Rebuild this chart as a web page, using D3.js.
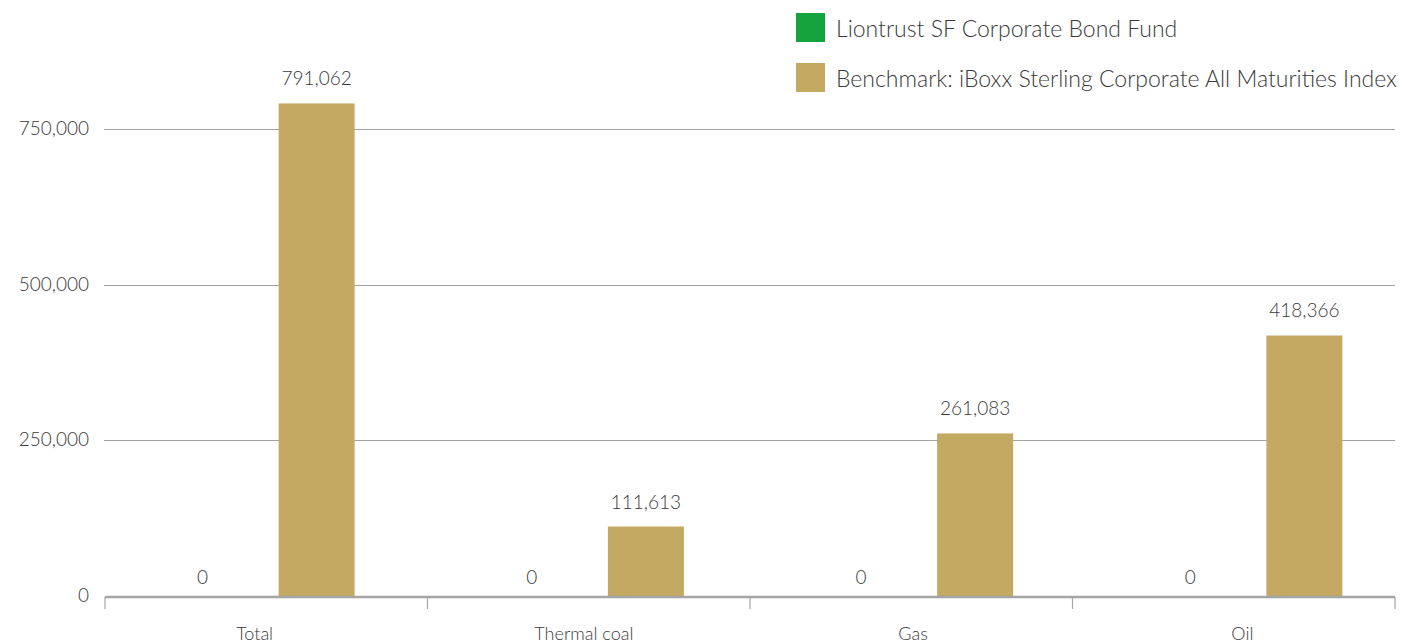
<!DOCTYPE html>
<html>
<head>
<meta charset="utf-8">
<script src="https://cdn.jsdelivr.net/npm/d3@7"></script>
<style>
  html, body { margin: 0; padding: 0; background: #fff; }
  svg text { font-family: "Lato", "Open Sans", sans-serif; font-weight: 300; fill: #3a3a3a; }
</style>
</head>
<body>
<svg id="chart" width="1402" height="644"></svg>
<script>
const categories = ["Total", "Thermal coal", "Gas", "Oil"];
const seriesNames = ["Liontrust SF Corporate Bond Fund", "Benchmark: iBoxx Sterling Corporate All Maturities Index"];
const fundValues = [0, 0, 0, 0];
const benchmarkValues = [791062, 111613, 261083, 418366];
const yTicks = [0, 250000, 500000, 750000];
const colors = ["#14a33c", "#c3a962"];

const svg = d3.select("#chart");
const plotLeft = 105, plotRight = 1395;
const y = d3.scaleLinear().domain([0, 750000]).range([596, 129]);

// axis scale (tick marks at category boundaries)
const xAxisScale = d3.scaleBand().domain(categories).range([plotLeft, plotRight]);
// content scale (bars and labels)
const x = d3.scaleBand().domain(categories).range([95, 1412]);
const bw = x.bandwidth();
const x1 = d3.scaleBand().domain(seriesNames)
  .range([bw / 2 - 95, bw / 2 + 95]).paddingInner(1/3).paddingOuter(0);

const fmt = d3.format(",");

// gridlines
svg.append("g").selectAll("line").data(yTicks.filter(t => t > 0)).join("line")
  .attr("x1", plotLeft - 1).attr("x2", plotRight)
  .attr("y1", d => Math.round(y(d)) + 0.5).attr("y2", d => Math.round(y(d)) + 0.5)
  .attr("stroke", "#a3a3a3").attr("stroke-width", 1);

// y labels
svg.append("g").selectAll("text").data(yTicks).join("text")
  .attr("x", 89).attr("y", d => y(d) + 6)
  .attr("text-anchor", "end").style("font-size", "19px")
  .text(d => fmt(d));

// bars
const data = categories.map((c, i) => ({ cat: c, vals: [fundValues[i], benchmarkValues[i]] }));
const groups = svg.append("g").selectAll("g").data(data).join("g")
  .attr("transform", d => `translate(${x(d.cat)},0)`);
groups.selectAll("rect").data(d => d.vals.map((v, j) => ({ v, s: seriesNames[j], j }))).join("rect")
  .attr("x", d => x1(d.s)).attr("width", x1.bandwidth())
  .attr("y", d => y(d.v)).attr("height", d => y(0) - y(d.v))
  .attr("fill", d => colors[d.j]);
groups.selectAll("text").data(d => d.vals.map((v, j) => ({ v, s: seriesNames[j], j }))).join("text")
  .attr("x", d => x1(d.s) + x1.bandwidth() / 2)
  .attr("y", d => y(d.v) - (d.v === 0 ? 12 : 18))
  .attr("text-anchor", "middle").style("font-size", "19px")
  .text(d => fmt(d.v));

// x axis
const axisG = svg.append("g").attr("transform", `translate(0,${y(0) + 1})`);
axisG.append("line").attr("x1", plotLeft).attr("x2", plotRight)
  .attr("stroke", "#a5a5a5").attr("stroke-width", 2.5);
const bounds = categories.map(c => xAxisScale(c)).concat([plotRight]);
axisG.selectAll("line.tick").data(bounds).join("line").attr("class", "tick")
  .attr("x1", d => d).attr("x2", d => d).attr("y1", 0).attr("y2", 12)
  .attr("stroke", "#a5a5a5").attr("stroke-width", 1.2);
svg.append("g").selectAll("text").data(categories).join("text")
  .attr("x", d => x(d) + bw / 2 - 5).attr("y", 640)
  .attr("text-anchor", "middle").style("font-size", "18px")
  .text(d => d);

// legend
const legend = svg.append("g").attr("transform", "translate(796,13)");
const li = legend.selectAll("g").data(seriesNames).join("g")
  .attr("transform", (d, i) => `translate(0,${i * 50})`);
li.append("rect").attr("width", 29).attr("height", 29).attr("fill", (d, i) => colors[i]);
li.append("text").attr("x", 40).attr("y", 24).style("font-size", "23px").text(d => d);
</script>
</body>
</html>
